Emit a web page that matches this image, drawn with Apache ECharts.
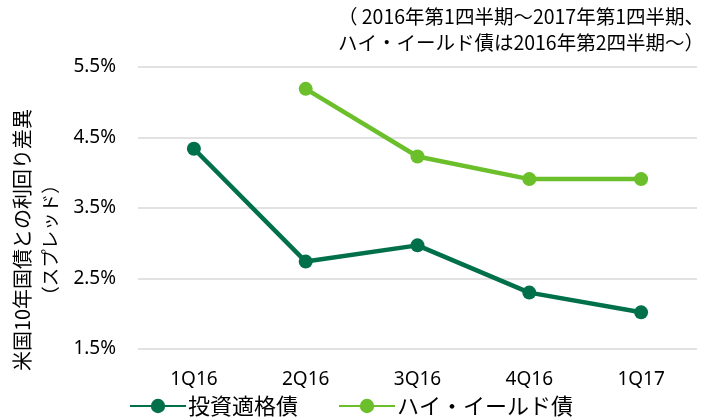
<!DOCTYPE html>
<html lang="ja">
<head>
<meta charset="UTF-8">
<title>spread</title>
<script src="https://cdn.jsdelivr.net/npm/echarts@6/dist/echarts.min.js"></script>
<style>
  html, body { margin: 0; padding: 0; background: #fff; }
  #main { width: 709px; height: 417px; }
</style>
</head>
<body>
<div id="main"></div>
<script>
    // 四半期
    let quarters = ['1Q16', '2Q16', '3Q16', '4Q16', '1Q17'];
    // 投資適格債 スプレッド(%)
    let igSpread = [4.34, 2.74, 2.97, 2.30, 2.02];
    // ハイ・イールド債 スプレッド(%)  1Q16はデータなし
    let hySpread = [null, 5.19, 4.23, 3.91, 3.91];
    let yTicks = [1.5, 2.5, 3.5, 4.5, 5.5];
    let noteLines = ['（ 2016年第1四半期～2017年第1四半期、', 'ハイ・イールド債は2016年第2四半期～）'];
    let yNameLines = ['米国10年国債との利回り差異', '（スプレッド）'];

    let cjk = '"Noto Sans CJK JP", sans-serif';
    let latin = '"Noto Sans", sans-serif';

    let graphics = noteLines.map(function (t, i) {
        return {
            type: 'text',
            right: 5,
            top: 7 + i * 26,
            style: { text: t, fontFamily: cjk, fontSize: 19.5, fill: '#000' }
        };
    });
    // 縦軸タイトル（縦書き風に回転）
    yNameLines.forEach(function (t, i) {
        graphics.push({
            type: 'text',
            x: i == 0 ? 22 : 50,
            y: 240,
            rotation: Math.PI / 2,
            style: {
                text: t, fontFamily: cjk, fontSize: i == 0 ? 20 : 18.5, fill: '#000',
                textAlign: 'center', textVerticalAlign: 'middle'
            }
        });
    });

    let myChart = echarts.init(document.getElementById('main'));
    myChart.setOption({
        animation: false,
        graphic: graphics,
        grid: { left: 138, right: 12, top: 67, bottom: 68, outerBoundsMode: 'none' },
        legend: {
            left: 124,
            top: 390,
            itemWidth: 56,
            itemHeight: 18,
            itemGap: 40,
            textStyle: { fontFamily: cjk, fontSize: 22, color: '#000', padding: [0, 0, 0, -3] },
            data: ['投資適格債', 'ハイ・イールド債']
        },
        xAxis: {
            type: 'category',
            data: quarters,
            boundaryGap: true,
            axisLine: { show: false },
            axisTick: { show: false },
            axisLabel: { fontFamily: latin, fontSize: 19, color: '#000', margin: 21 }
        },
        yAxis: {
            type: 'value',
            min: yTicks[0],
            max: yTicks[yTicks.length - 1],
            interval: 1,
            axisLine: { show: false },
            axisTick: { show: false },
            axisLabel: {
                fontFamily: latin, fontSize: 19, color: '#000', margin: 22,
                formatter: function (v) { return v.toFixed(1) + '%'; }
            },
            splitLine: { lineStyle: { color: '#d9d9d9', width: 1.5 } }
        },
        series: [{
            name: '投資適格債',
            type: 'line',
            data: igSpread,
            symbol: 'circle',
            symbolSize: 14,
            color: '#00704a',
            lineStyle: { width: 4.5, color: '#00704a' },
            itemStyle: { color: '#00704a' }
        }, {
            name: 'ハイ・イールド債',
            type: 'line',
            data: hySpread,
            symbol: 'circle',
            symbolSize: 14,
            color: '#6abf2a',
            lineStyle: { width: 4.5, color: '#6abf2a' },
            itemStyle: { color: '#6abf2a' }
        }]
    });
</script>
</body>
</html>
